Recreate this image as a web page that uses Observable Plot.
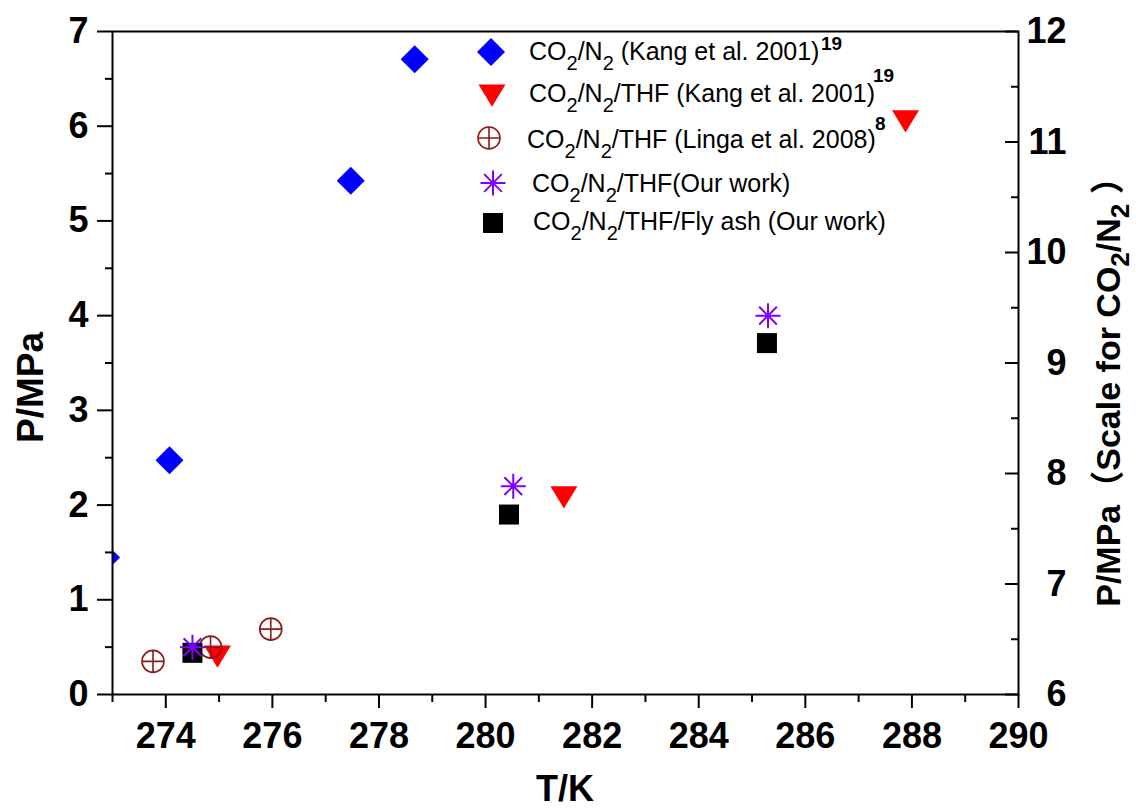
<!DOCTYPE html>
<html><head><meta charset="utf-8">
<script src="https://cdn.jsdelivr.net/npm/d3@7"></script>
<script src="https://cdn.jsdelivr.net/npm/@observablehq/plot@0.6"></script>
<style>
body{margin:0;background:#fff;}
#wrap{position:relative;width:1136px;height:810px;}
</style></head><body><div id="wrap"></div>
<script>
// ---------------- data ----------------
// CO2/N2 (Kang et al. 2001) — values on the right-hand (CO2/N2) pressure scale
const kangCO2N2_T = [272.88, 274.07, 277.47, 278.67];
const kangCO2N2_P = [7.24, 8.12, 10.65, 11.75];
// CO2/N2/THF (Kang et al. 2001)
const kangTHF_T = [274.97, 281.47, 287.88];
const kangTHF_P = [0.44, 2.12, 6.09];
// CO2/N2/THF (Linga et al. 2008)
const lingaTHF_T = [273.76, 274.84, 275.97];
const lingaTHF_P = [0.35, 0.50, 0.69];
// CO2/N2/THF (Our work)
const ourTHF_T = [274.50, 280.52, 285.30];
const ourTHF_P = [0.50, 2.20, 4.00];
// CO2/N2/THF/Fly ash (Our work)
const ourFly_T = [274.50, 280.44, 285.28];
const ourFly_P = [0.44, 1.90, 3.71];

const xMajorTicks = [274, 276, 278, 280, 282, 284, 286, 288, 290];
const xMinorTicks = [273, 275, 277, 279, 281, 283, 285, 287, 289];
const yLeftTicks = [0, 1, 2, 3, 4, 5, 6, 7];
const yLeftMinor = [0.5, 1.5, 2.5, 3.5, 4.5, 5.5, 6.5];
const yRightTicks = [6, 7, 8, 9, 10, 11, 12];
const yRightMinor = [6.5, 7.5, 8.5, 9.5, 10.5, 11.5];
const xDomain = [273, 290];
const yLeftDomain = [0, 7];
const yRightDomain = [6, 12];

const legendLabels = [
  {parts: ["CO", "_2", "/N", "_2", " (Kang et al. 2001)"], sup: "19"},
  {parts: ["CO", "_2", "/N", "_2", "/THF (Kang et al. 2001)"], sup: "19"},
  {parts: ["CO", "_2", "/N", "_2", "/THF (Linga et al. 2008)"], sup: "8"},
  {parts: ["CO", "_2", "/N", "_2", "/THF(Our work)"], sup: null},
  {parts: ["CO", "_2", "/N", "_2", "/THF/Fly ash (Our work)"], sup: null}
];

// ---------------- helpers ----------------
const toLeft = p => (p - yRightDomain[0]) * (yLeftDomain[1] - yLeftDomain[0]) / (yRightDomain[1] - yRightDomain[0]) + yLeftDomain[0];
const toRight = v => (v - yLeftDomain[0]) * (yRightDomain[1] - yRightDomain[0]) / (yLeftDomain[1] - yLeftDomain[0]) + yRightDomain[0];
const rows = (T, P) => T.map((t, i) => ({t, p: P[i]}));

const rad = size => Math.sqrt(size / Math.PI);
const symDiamond = {draw(c, s) { const r = rad(s); c.moveTo(0, -r); c.lineTo(r, 0); c.lineTo(0, r); c.lineTo(-r, 0); c.closePath(); }};
const symTriDown = {draw(c, s) { const r = rad(s); c.moveTo(-r, -0.55 * r); c.lineTo(r, -0.55 * r); c.lineTo(0, 1.1 * r); c.closePath(); }};
const symSquare = {draw(c, s) { const r = rad(s); c.rect(-r, -r, 2 * r, 2 * r); }};
const symCirclePlus = {draw(c, s) { const r = rad(s); c.moveTo(r, 0); c.arc(0, 0, r, 0, 2 * Math.PI); c.moveTo(-r, 0); c.lineTo(r, 0); c.moveTo(0, -r); c.lineTo(0, r); }};
const symAsterisk = {draw(c, s) { const r = rad(s); const d = r * Math.SQRT1_2; c.moveTo(-r, 0); c.lineTo(r, 0); c.moveTo(0, -r); c.lineTo(0, r); c.moveTo(-d, -d); c.lineTo(d, d); c.moveTo(-d, d); c.lineTo(d, -d); }};

const BLUE = "#0000FF", RED = "#FF0000", BROWN = "#8B1A1A", PURPLE = "#8000FF", BLACK = "#000000";
const series = [
  {sym: symDiamond, r: 14, fill: BLUE, stroke: "none"},
  {sym: symTriDown, r: 13.5, fill: RED, stroke: "none"},
  {sym: symCirclePlus, r: 11, fill: "none", stroke: BROWN, sw: 1.6},
  {sym: symAsterisk, r: 12.5, fill: "none", stroke: PURPLE, sw: 2},
  {sym: symSquare, r: 10, fill: BLACK, stroke: "none"}
];

const W = 1136, H = 810, mT = 31, mR = 118, mB = 116, mL = 112;
const FONT = "'Liberation Sans', Arial, 'Noto Sans CJK SC', sans-serif";

const chart = Plot.plot({
  width: W, height: H,
  marginTop: mT, marginRight: mR, marginBottom: mB, marginLeft: mL,
  style: {fontFamily: FONT, fontSize: "36px", fontWeight: "bold", color: "black", background: "white", overflow: "visible"},
  x: {domain: xDomain},
  y: {domain: yLeftDomain},
  marks: [
    Plot.dot(rows(kangCO2N2_T, kangCO2N2_P), {x: "t", y: d => toLeft(d.p), symbol: series[0].sym, r: series[0].r, fill: BLUE, stroke: "none", clip: true}),
    Plot.dot(rows(kangTHF_T, kangTHF_P), {x: "t", y: "p", symbol: series[1].sym, r: series[1].r, fill: RED, stroke: "none", clip: true}),
    Plot.dot(rows(lingaTHF_T, lingaTHF_P), {x: "t", y: "p", symbol: series[2].sym, r: series[2].r, fill: "none", stroke: BROWN, strokeWidth: 1.6, clip: true}),
    Plot.dot(rows(ourFly_T, ourFly_P), {x: "t", y: "p", symbol: series[4].sym, r: series[4].r, fill: BLACK, stroke: "none", clip: true}),
    Plot.dot(rows(ourTHF_T, ourTHF_P), {x: "t", y: "p", symbol: series[3].sym, r: series[3].r, fill: "none", stroke: PURPLE, strokeWidth: 2, clip: true}),
    Plot.frame({stroke: "black", strokeWidth: 2}),
    Plot.axisX({ticks: xMajorTicks, tickSize: 14, tickPadding: 14, strokeWidth: 2, tickFormat: d => String(d), label: null}),
    Plot.axisX({ticks: xMinorTicks, tickSize: 8, strokeWidth: 2, tickFormat: () => "", label: null}),
    Plot.axisY({ticks: yLeftTicks, tickSize: 15, tickPadding: 9, strokeWidth: 2, tickFormat: d => String(d), label: null}),
    Plot.axisY({ticks: yLeftMinor, tickSize: 7, strokeWidth: 2, tickFormat: () => "", label: null}),
    Plot.axisY({anchor: "left", frameAnchor: "right", ticks: yRightTicks.map(toLeft), tickSize: 13, strokeWidth: 2, tickFormat: () => "", label: null}),
    Plot.axisY({anchor: "left", frameAnchor: "right", ticks: yRightMinor.map(toLeft), tickSize: 7, strokeWidth: 2, tickFormat: () => "", label: null}),
    Plot.axisY({anchor: "right", ticks: yRightTicks.map(toLeft), tickSize: 0, tickPadding: 48, textAnchor: "end", tickFormat: d => String(Math.round(toRight(d))), label: null})
  ]
});
document.getElementById("wrap").appendChild(chart);

// ---------------- axis titles ----------------
const svg = d3.select(chart);
const g = svg.append("g").attr("font-family", FONT).attr("fill", "black");
const cx = (mL + (W - mR)) / 2;
const cy = (mT + (H - mB)) / 2 + 25;
g.append("text").attr("x", cx).attr("y", 801).attr("text-anchor", "middle")
  .attr("font-size", 36).attr("font-weight", "bold").text("T/K");
g.append("text").attr("transform", `translate(43,${cy}) rotate(-90)`).attr("text-anchor", "middle")
  .attr("font-size", 37).attr("font-weight", "bold").text("P/MPa");
const rt = g.append("text").attr("transform", `translate(1120,${cy - 4}) rotate(-90)`).attr("text-anchor", "middle")
  .attr("font-size", 34).attr("font-weight", "bold");
rt.append("tspan").text("P/MPa（Scale for CO");
rt.append("tspan").attr("font-size", 26).attr("dy", 9).text("2");
rt.append("tspan").attr("dy", -9).text("/N");
rt.append("tspan").attr("font-size", 26).attr("dy", 9).text("2");
rt.append("tspan").attr("dy", -9).text(" ）");

// ---------------- legend ----------------
const symPos = [[491, 52], [492, 92], [489, 138], [493, 183], [493, 223]];
const textPos = [[529, 60], [529, 101.5], [527, 147.5], [532, 191.5], [533, 230]];
const supPos = [[821, 50], [873, 82], [875, 130]];
const lg = svg.append("g").attr("font-family", FONT).attr("text-anchor", "start");
legendLabels.forEach((row, i) => {
  const s = series[i];
  const p = d3.path();
  s.sym.draw(p, Math.PI * s.r * s.r);
  lg.append("path").attr("d", p.toString())
    .attr("transform", `translate(${symPos[i][0]},${symPos[i][1]})`)
    .attr("fill", s.fill).attr("stroke", s.stroke).attr("stroke-width", s.sw || 0);
  const t = lg.append("text").attr("x", textPos[i][0]).attr("y", textPos[i][1])
    .attr("text-anchor", "start")
    .attr("font-size", 25).attr("font-weight", "normal").attr("fill", "black");
  let shifted = false;
  row.parts.forEach(part => {
    if (part.startsWith("_")) {
      t.append("tspan").attr("font-size", 20).attr("dy", shifted ? 0 : 10).text(part.slice(1));
      shifted = true;
    } else {
      t.append("tspan").attr("dy", shifted ? -10 : 0).text(part);
      shifted = false;
    }
  });
  if (row.sup) {
    lg.append("text").attr("x", supPos[i][0]).attr("y", supPos[i][1]).attr("text-anchor", "start")
      .attr("font-size", 19).attr("font-weight", "bold").attr("fill", "black").text(row.sup);
  }
});
</script>
</body></html>
